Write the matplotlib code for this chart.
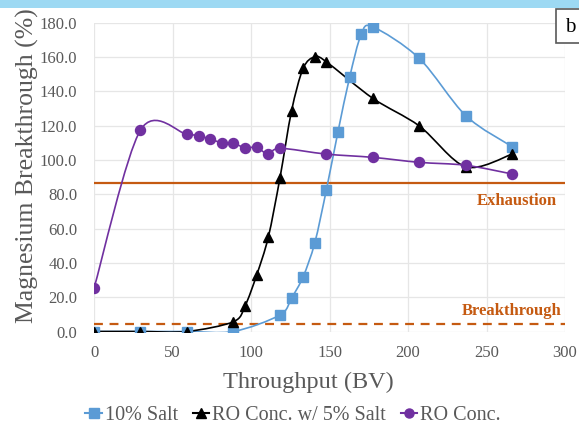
import matplotlib
matplotlib.use("Agg")
import matplotlib.pyplot as plt
from matplotlib.path import Path
from matplotlib.patches import PathPatch, Rectangle
from matplotlib.lines import Line2D

plt.rcParams['font.family'] = ['Liberation Serif', 'DejaVu Serif']

# throughput (BV) for each series
x_salt = [0, 29.6, 59.2, 88.8, 118.4, 125.8, 133.2, 140.6, 148.0, 155.4,
          162.8, 170.2, 177.6, 207.2, 236.8, 266.4]
y_salt = [0, 0, 0, 0, 9.6, 19.5, 31.9, 51.6, 82.5, 116.4,
          148.1, 173.2, 177.6, 159.2, 125.8, 107.7]

x_ro5 = [0, 29.6, 59.2, 88.8, 96.2, 103.6, 111.0, 118.4, 125.8, 133.2,
         140.6, 148.0, 177.6, 207.2, 236.8, 266.4]
y_ro5 = [0, 0, 0, 5.7, 14.9, 32.9, 54.9, 89.3, 128.5, 153.4,
         160.1, 157.2, 135.9, 119.8, 96.0, 103.4]

x_ro = [0, 29.6, 59.2, 66.6, 74.0, 81.4, 88.8, 96.2, 103.6, 111.0,
        118.4, 148.0, 177.6, 207.2, 236.8, 266.4]
y_ro = [25.2, 117.4, 114.9, 114.1, 112.2, 110.0, 109.7, 107.1, 107.3, 103.3,
        106.8, 103.4, 101.5, 98.6, 96.9, 91.8]

exhaustion = 86.6
breakthrough = 4.4

labels = ['10% Salt', 'RO Conc. w/ 5% Salt', 'RO Conc.']
colors = ['#5B9BD5', '#000000', '#7030A0']
markers = ['s', '^', 'o']
orange = '#C55A11'
gray = '#595959'


def smooth_path(xs, ys, k=1 / 6.5):
    # Excel-style smoothed line: cubic bezier through the points
    pts = list(zip(xs, ys))
    n = len(pts)
    verts = [pts[0]]
    codes = [Path.MOVETO]
    for i in range(n - 1):
        p0 = pts[max(i - 1, 0)]
        p1 = pts[i]
        p2 = pts[i + 1]
        p3 = pts[min(i + 2, n - 1)]
        c1 = (p1[0] + (p2[0] - p0[0]) * k, p1[1] + (p2[1] - p0[1]) * k)
        c2 = (p2[0] - (p3[0] - p1[0]) * k, p2[1] - (p3[1] - p1[1]) * k)
        verts += [c1, c2, p2]
        codes += [Path.CURVE4] * 3
    return Path(verts, codes)


fig = plt.figure(figsize=(5.79, 4.29), dpi=100)
ax = fig.add_axes([94 / 579, 1 - 331.5 / 429, (565 - 94) / 579, (331.5 - 22.7) / 429])

# blue band on top + "b" box
fig.patches.append(Rectangle((0, 1 - 8 / 429), 1, 8 / 429, transform=fig.transFigure,
                             facecolor='#9DD9F3', edgecolor='none'))
fig.patches.append(Rectangle((556 / 579, 1 - 42.7 / 429), 30 / 579, 34 / 429,
                             transform=fig.transFigure, facecolor='white',
                             edgecolor='#595959', linewidth=1.2))
fig.text(570 / 579, 1 - 27 / 429, 'b', fontsize=15, ha='center', va='center', color='black')

ax.axhline(exhaustion, color=orange, lw=1.6, zorder=2)
ax.axhline(breakthrough, color=orange, lw=1.6, ls=(0, (4, 3)), zorder=2)
ax.text(295, 75.8, 'Exhaustion', color=orange, fontsize=12, fontweight='bold',
        ha='right', va='center')
ax.text(298, 12.2, 'Breakthrough', color=orange, fontsize=12, fontweight='bold',
        ha='right', va='center')

series = [(x_salt, y_salt), (x_ro5, y_ro5), (x_ro, y_ro)]
sizes = [6.5, 7.5, 7.2]
for (xs, ys), c, m, ms in zip(series, colors, markers, sizes):
    ax.add_patch(PathPatch(smooth_path(xs, ys), facecolor='none', edgecolor=c,
                           lw=1.2, zorder=3))
    ax.plot(xs, ys, ls='none', marker=m, color=c, markersize=ms, zorder=4)

ax.set_xlim(0, 300)
ax.set_ylim(0, 180)
ax.set_xticks(range(0, 301, 50))
ax.set_yticks(range(0, 181, 20))
ax.set_yticklabels([f'{v:.1f}' for v in range(0, 181, 20)])
ax.grid(True, color='#E6E6E6', lw=0.9, zorder=0)
ax.set_axisbelow(True)
for s in ax.spines.values():
    s.set_visible(False)
ax.tick_params(length=0, labelsize=12, colors=gray)
ax.tick_params(axis='y', pad=12)
ax.tick_params(axis='x', pad=10)

# axis titles are centred on the chart area, not the plot area
fig.text(308 / 579, 1 - 382 / 429, 'Throughput (BV)', fontsize=17.5, color=gray,
         ha='center', va='center')
fig.text(27 / 579, 1 - 166 / 429, 'Magnesium Breakthrough (%)', fontsize=18.5,
         color=gray, ha='center', va='center', rotation=90)

handles = [Line2D([], [], color=c, marker=m, lw=1.5, markersize=6.5)
           for c, m in zip(colors, markers)]
fig.legend(handles, labels, loc='center', bbox_to_anchor=(293 / 579, 1 - 415 / 429),
           ncol=3, frameon=False, fontsize=14.5, handlelength=0.8, handletextpad=0.15,
           columnspacing=0.75, labelcolor=gray, borderaxespad=0)

fig.savefig('out.png', dpi=100)
